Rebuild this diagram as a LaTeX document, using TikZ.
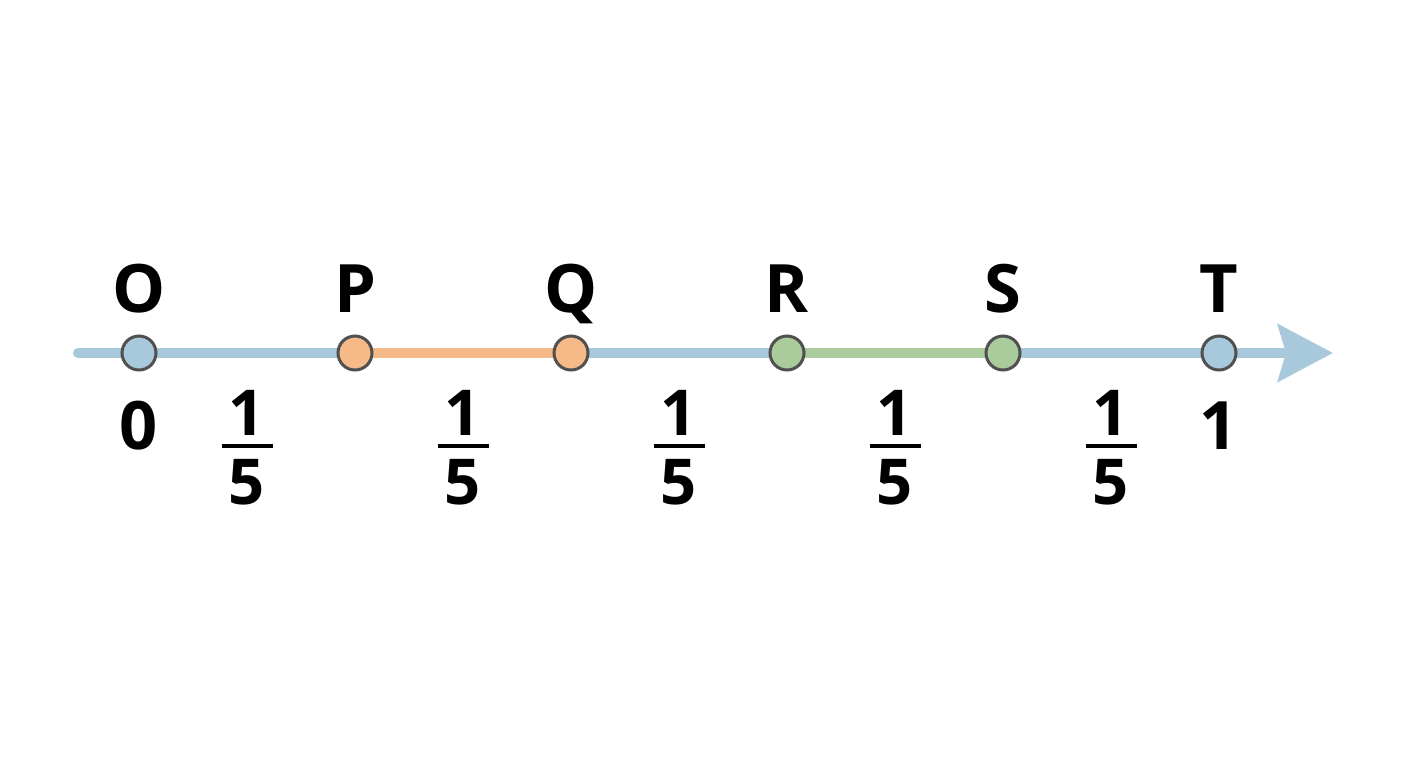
\documentclass[tikz,border=0pt]{standalone}
\usepackage{fontspec}
\setmainfont{Open Sans}
\usepackage{xcolor}
\usetikzlibrary{arrows.meta,backgrounds}
\definecolor{lineblue}{HTML}{A8C8DB}
\definecolor{lineorange}{HTML}{F5BA87}
\definecolor{linegreen}{HTML}{AACB9C}
\definecolor{rimgray}{HTML}{505050}

\begin{document}
\begin{tikzpicture}[
	pt/.style={circle,draw=rimgray,line width=0.03cm,minimum size=0.34cm,inner sep=0pt},
	seg/.style={line width=0.1cm},
	lbl/.style={font=\fontsize{19}{19}\bfseries\selectfont,anchor=base,inner sep=0pt},
	digit/.style={font=\fontsize{18}{18}\bfseries\selectfont,anchor=base,inner sep=0pt},
	fracbar/.style={fill=black,minimum width=0.51cm,minimum height=0.04cm,inner sep=0pt}
	]
		\useasboundingbox (-1.39,-4.15) rectangle (12.69,3.53);
		\coordinate (start) at (-0.61,0);
		\coordinate (tip) at (11.94,0);
		%
		\node[pt,fill=lineblue] (O) at (0,0) {};
		\node[pt,fill=lineorange] (P) at (2.16,0) {};
		\node[pt,fill=lineorange] (Q) at (4.32,0) {};
		\node[pt,fill=linegreen] (R) at (6.48,0) {};
		\node[pt,fill=linegreen] (S) at (8.64,0) {};
		\node[pt,fill=lineblue] (T) at (10.80,0) {};
		%
		\begin{scope}[on background layer]
		\draw[seg,lineblue,line cap=round,-{Stealth[length=0.55cm,width=0.57cm,inset=0.08cm]}] (start) -- (tip);
		\path[seg]
		(P.center) edge[lineorange] (Q.center)
		(R.center) edge[linegreen] (S.center);
		\end{scope}
		%
		\foreach \n/\x in {O/0,P/2.16,Q/4.32,R/6.48,S/8.64,T/10.80}
		\node[lbl] (\n lbl) at (\x,0.40) {\n};
		\node[lbl] (zero) at (0,-0.97) {0};
		\node[lbl] (one) at (10.80,-0.97) {1};
		%
		\foreach \i/\x in {1/1.08,2/3.24,3/5.40,4/7.56,5/9.72}{
		\node[digit] (num\i) at (\x,-0.82) {1};
		\node[fracbar] (bar\i) at (\x,-0.93) {};
		\node[digit] (den\i) at (\x,-1.52) {5};
		}
	\end{tikzpicture}
\end{document}
